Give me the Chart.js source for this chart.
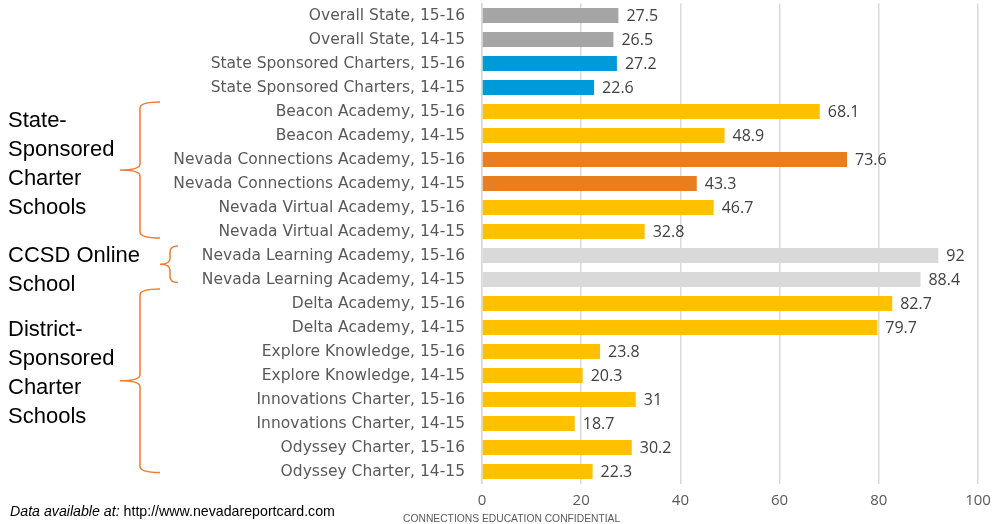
<!DOCTYPE html>
<html>
<head>
<meta charset="utf-8">
<script src="https://cdn.jsdelivr.net/npm/chart.js@4.4.0/dist/chart.umd.min.js"></script>
<style>
  html, body { margin: 0; padding: 0; background: #fff; }
  #wrap { width: 1000px; height: 524px; }
</style>
</head>
<body>
<div id="wrap"><canvas id="chart" width="1000" height="524"></canvas></div>
<script>
// categories, top to bottom
const categories = [
  'Overall State, 15-16',
  'Overall State, 14-15',
  'State Sponsored Charters, 15-16',
  'State Sponsored Charters, 14-15',
  'Beacon Academy, 15-16',
  'Beacon Academy, 14-15',
  'Nevada Connections Academy, 15-16',
  'Nevada Connections Academy, 14-15',
  'Nevada Virtual Academy, 15-16',
  'Nevada Virtual Academy, 14-15',
  'Nevada Learning Academy, 15-16',
  'Nevada Learning Academy, 14-15',
  'Delta Academy, 15-16',
  'Delta Academy, 14-15',
  'Explore Knowledge, 15-16',
  'Explore Knowledge, 14-15',
  'Innovations Charter, 15-16',
  'Innovations Charter, 14-15',
  'Odyssey Charter, 15-16',
  'Odyssey Charter, 14-15'
];
const values = [27.5, 26.5, 27.2, 22.6, 68.1, 48.9, 73.6, 43.3, 46.7, 32.8,
                92, 88.4, 82.7, 79.7, 23.8, 20.3, 31, 18.7, 30.2, 22.3];
const xTicks = [0, 20, 40, 60, 80, 100];

// bar colours
const grey = '#a5a5a5', blue = '#009ad9', gold = '#ffc000', orange = '#e97e1f', light = '#d9d9d9';
const barColors = [grey, grey, blue, blue, gold, gold, orange, orange, gold, gold,
                   light, light, gold, gold, gold, gold, gold, gold, gold, gold];

// side groups: text lines + which categories the brace covers
const groups = [
  { lines: ['State-', 'Sponsored', 'Charter', 'Schools'], first: 4, last: 9, textY: 121, top: -9.5, bottom: 6.5, xv: 140, xEnd: 160, xTip: 120 },
  { lines: ['CCSD Online', 'School'], first: 10, last: 11, textY: 256, top: -9.5, bottom: 3, xv: 170, xEnd: 178, xTip: 160 },
  { lines: ['District-', 'Sponsored', 'Charter', 'Schools'], first: 12, last: 19, textY: 330, top: -14.5, bottom: 1, xv: 140, xEnd: 160, xTip: 120 }
];

const catFont = '"DejaVu Sans", sans-serif';
const numFont = '"Open Sans", "Liberation Sans", sans-serif';

function drawBrace(ctx, g, top, bottom) {
  const mid = (top + bottom) / 2;
  const r = 6;
  ctx.beginPath();
  ctx.moveTo(g.xEnd, top);
  ctx.quadraticCurveTo(g.xv, top, g.xv, top + r);
  ctx.lineTo(g.xv, mid - r);
  ctx.quadraticCurveTo(g.xv, mid, g.xTip, mid);
  ctx.moveTo(g.xTip, mid);
  ctx.quadraticCurveTo(g.xv, mid, g.xv, mid + r);
  ctx.lineTo(g.xv, bottom - r);
  ctx.quadraticCurveTo(g.xv, bottom, g.xEnd, bottom);
  ctx.stroke();
}

const extras = {
  id: 'extras',
  afterDatasetsDraw(chart) {
    const ctx = chart.ctx;
    const x = chart.scales.x, y = chart.scales.y;
    ctx.save();
    // value labels
    ctx.font = '16px ' + numFont;
    ctx.fillStyle = '#404040';
    ctx.textAlign = 'left';
    ctx.textBaseline = 'middle';
    values.forEach((v, i) => {
      ctx.fillText(String(v), x.getPixelForValue(v) + 8, y.getPixelForValue(i) + 1);
    });

    // group texts and braces
    ctx.fillStyle = '#000';
    ctx.font = '22px "Liberation Sans", Arial, sans-serif';
    groups.forEach(g => {
      g.lines.forEach((t, k) => ctx.fillText(t, 8, g.textY + k * 29));
      ctx.strokeStyle = '#ed7d31';
      ctx.lineWidth = 1.5;
      drawBrace(ctx, g, y.getPixelForValue(g.first) + g.top, y.getPixelForValue(g.last) + g.bottom);
    });

    // footer
    ctx.font = 'italic 14.2px "Liberation Sans", Arial, sans-serif';
    ctx.fillStyle = '#000';
    ctx.textBaseline = 'alphabetic';
    const lead = 'Data available at: ';
    ctx.fillText(lead, 10, 516);
    const w = ctx.measureText(lead).width;
    ctx.font = '14.2px "Liberation Sans", Arial, sans-serif';
    ctx.fillText('http://www.nevadareportcard.com', 10 + w, 516);

    ctx.font = '10.3px "Liberation Sans", Arial, sans-serif';
    ctx.fillStyle = '#595959';
    ctx.fillText('CONNECTIONS EDUCATION CONFIDENTIAL', 403, 522);
    ctx.restore();
  }
};

new Chart(document.getElementById('chart'), {
  type: 'bar',
  data: {
    labels: categories,
    datasets: [{
      data: values,
      backgroundColor: barColors,
      borderWidth: 0,
      barPercentage: 0.625,
      categoryPercentage: 1
    }]
  },
  options: {
    indexAxis: 'y',
    responsive: false,
    animation: false,
    layout: { padding: { top: 3.5, right: 22, left: 0, bottom: 0 } },
    plugins: { legend: { display: false }, tooltip: { enabled: false } },
    scales: {
      x: {
        min: 0,
        max: 100,
        afterBuildTicks: s => { s.ticks = xTicks.map(v => ({ value: v })); },
        afterFit: s => { s.height = 40.5; s.paddingLeft = 0; s.paddingRight = 0; },
        grid: { color: '#d9d9d9', lineWidth: 1.5, drawTicks: false },
        border: { display: false },
        ticks: { color: '#595959', font: { family: numFont, size: 15 }, padding: 8 }
      },
      y: {
        afterFit: s => { s.width = 482; s.paddingTop = 0; s.paddingBottom = 0; },
        grid: { display: false, drawTicks: false },
        border: { display: true, color: '#d9d9d9', width: 1.5 },
        ticks: { color: '#595959', font: { family: catFont, size: 15.5 }, padding: 17, autoSkip: false }
      }
    }
  },
  plugins: [extras]
});
</script>
</body>
</html>
